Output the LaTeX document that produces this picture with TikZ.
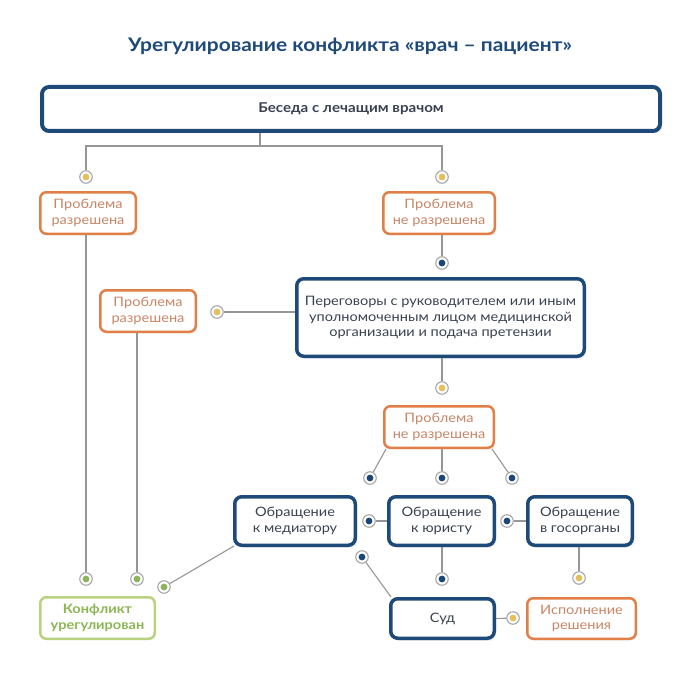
\documentclass[tikz,border=0pt]{standalone}
\usepackage{fontspec}
\setmainfont{Lato}[FakeStretch=1.12]
\usetikzlibrary{shadows}
\definecolor{docblue}{RGB}{30,74,122}
\definecolor{boxtext}{RGB}{58,66,82}
\definecolor{probline}{RGB}{224,128,72}
\definecolor{probtext}{RGB}{200,134,102}
\definecolor{okline}{RGB}{184,210,128}
\definecolor{oktext}{RGB}{140,182,84}
\definecolor{linkgray}{RGB}{150,150,150}
\definecolor{dotyellow}{RGB}{228,192,92}
\definecolor{dotblue}{RGB}{28,70,118}
\definecolor{dotgreen}{RGB}{140,180,92}

\tikzset{
  boxfont/.style={font=\fontsize{13}{15.5}\selectfont},
  stepbox/.style={draw=docblue, line width=3.5pt, rounded corners=7pt, fill=white,
    text=boxtext, align=center, boxfont, inner sep=0pt,
    drop shadow={shadow xshift=2pt, shadow yshift=-2.5pt, opacity=.12}},
  probbox/.style={draw=probline, line width=2.5pt, rounded corners=6pt, fill=white,
    text=probtext, align=center, boxfont, inner sep=0pt,
    minimum width=95.5pt, minimum height=41.5pt,
    drop shadow={shadow xshift=1.5pt, shadow yshift=-2pt, opacity=.08}},
  okbox/.style={draw=okline, line width=2.5pt, rounded corners=6pt, fill=white,
    text=oktext, align=center, boxfont, inner sep=0pt},
  link/.style={draw=linkgray, line width=1.1pt},
  joint/.style={circle, draw=linkgray!85, line width=1.1pt, fill=white,
    minimum size=12.5pt, inner sep=0pt,
    path picture={\fill[#1] (path picture bounding box.center) circle (3.4pt);}},
}

\begin{document}
\begin{tikzpicture}[x=1pt,y=-1pt]
\useasboundingbox (0,0) rectangle (700,679);

% Title
\node[text=docblue, font=\fontsize{18.7}{22}\selectfont\bfseries] (title) at (350,46)
  {Урегулирование конфликта «врач – пациент»};

% Boxes
\node[stepbox, line width=4pt, minimum width=618pt, minimum height=44pt,
  font=\fontsize{13.5}{16}\selectfont\bfseries] (talk) at (351,109) {Беседа с лечащим врачом};
\node[probbox] (ok1) at (88,213) {Проблема\\разрешена};
\node[probbox, minimum width=111.5pt] (notok1) at (439,213) {Проблема\\не разрешена};
\node[stepbox, minimum width=287.5pt, minimum height=77.5pt] (talks) at (440.5,317.5)
  {Переговоры с руководителем или иным\\уполномоченным лицом медицинской\\организации и подача претензии};
\node[probbox] (ok2) at (148,311) {Проблема\\разрешена};
\node[probbox, minimum width=109.5pt] (notok2) at (439,427) {Проблема\\не разрешена};
\node[stepbox, minimum width=120.5pt, minimum height=48.5pt] (mediator) at (295,521) {Обращение\\к медиатору};
\node[stepbox, minimum width=105.5pt, minimum height=48.5pt] (lawyer) at (441.5,521) {Обращение\\к юристу};
\node[stepbox, minimum width=104.5pt, minimum height=48.5pt] (gov) at (580,521) {Обращение\\в госорганы};
\node[stepbox, minimum width=103.5pt, minimum height=39.5pt] (court) at (442.5,618.5) {Суд};
\node[probbox, minimum width=108.5pt, minimum height=40.5pt] (exec) at (581.5,618.5) {Исполнение\\решения};
\node[okbox, minimum width=114.5pt, minimum height=41.5pt,
  font=\fontsize{13}{15.5}\selectfont\bfseries] (settled) at (97.5,618) {Конфликт\\урегулирован};

% Joints
\node[joint=dotyellow] (d1) at (86,177) {};
\node[joint=dotyellow] (d2) at (442,177) {};
\node[joint=dotblue] (d3) at (442,263) {};
\node[joint=dotyellow] (d4) at (217,312) {};
\node[joint=dotyellow] (d5) at (442,388) {};
\node[joint=dotblue] (d6) at (370,478) {};
\node[joint=dotblue] (d7) at (442,478) {};
\node[joint=dotblue] (d8) at (512,478) {};
\node[joint=dotblue] (d9) at (369,521) {};
\node[joint=dotblue] (d10) at (507,521) {};
\node[joint=dotblue] (d11) at (362,557) {};
\node[joint=dotblue] (d12) at (442,579) {};
\node[joint=dotyellow] (d13) at (579,578) {};
\node[joint=dotyellow] (d14) at (513,618) {};
\node[joint=dotgreen] (d15) at (86,579) {};
\node[joint=dotgreen] (d16) at (137,579) {};
\node[joint=dotgreen] (d17) at (164,587) {};

% Connectors
\coordinate (fork) at (260,146);
\draw[link] (talk.south -| fork) -- (fork);
\draw[link] (d1) |- (fork) -| (d2);
\draw[link] (notok1.south -| d3) -- (d3);
\draw[link] (talks.west |- d4) -- (d4);
\draw[link] (talks.south -| d5) -- (d5);
\draw[link] ([xshift=3pt]notok2.south west) -- (d6);
\draw[link] (notok2.south -| d7) -- (d7);
\draw[link] ([xshift=-3pt]notok2.south east) -- (d8);
\draw[link] (lawyer.west) -- (d9);
\draw[link] (gov.west) -- (d10);
\draw[link] (d11) -- ([xshift=2pt]court.north west);
\draw[link] (lawyer.south -| d12) -- (d12);
\draw[link] (gov.south -| d13) -- (d13);
\draw[link] (court.east) -- (d14);
\draw[link] (ok1.south -| d15) -- (d15);
\draw[link] (ok2.south -| d16) -- (d16);
\draw[link] ([xshift=1pt,yshift=1pt]mediator.south west) -- (d17);

\end{tikzpicture}
\end{document}
